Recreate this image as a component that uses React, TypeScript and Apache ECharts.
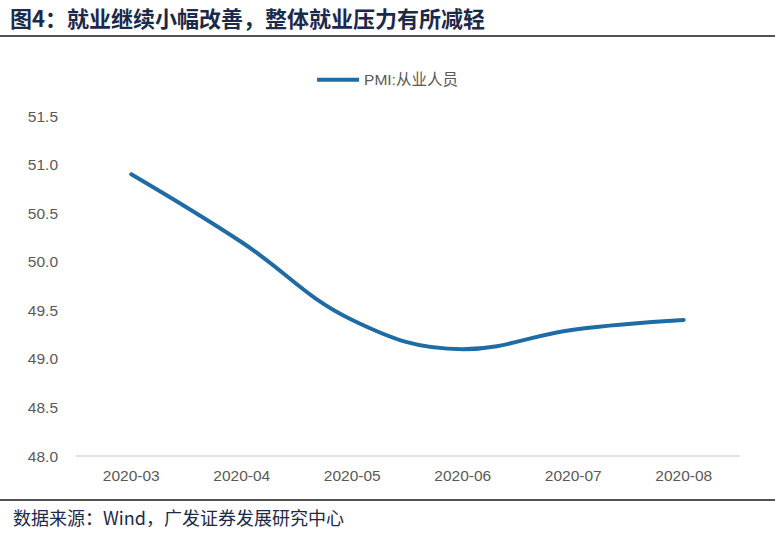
import React, { useEffect, useRef } from "react";
import * as echarts from "echarts";

const categories = ["2020-03", "2020-04", "2020-05", "2020-06", "2020-07", "2020-08"];
const pmiEmployment = [50.9, 50.2, 49.4, 49.1, 49.3, 49.4];
const seriesName = "PMI:从业人员";
const titleText = "图4：就业继续小幅改善，整体就业压力有所减轻";
const sourceText = "数据来源：Wind，广发证券发展研究中心";

export default function App() {
  const ref = useRef<HTMLDivElement>(null);
  useEffect(() => {
    if (!ref.current) return;
    const chart = echarts.init(ref.current, undefined, { renderer: "svg" });
    chart.setOption({
      animation: false,
      backgroundColor: "#ffffff",
      textStyle: { fontFamily: "Liberation Sans, Arial, Noto Sans CJK SC, sans-serif" },
      graphic: [
        {
          type: "text",
          left: 10,
          top: 6,
          style: {
            text: titleText,
            fontSize: 22,
            fontWeight: "bold",
            fill: "#1B2A4A",
            fontFamily: "Noto Sans CJK SC, sans-serif",
          },
        },
        {
          type: "line",
          shape: { x1: 0, y1: 36, x2: 775, y2: 36 },
          style: { stroke: "#1a1a1a", lineWidth: 1.5 },
        },
        {
          type: "line",
          shape: { x1: 0, y1: 500, x2: 775, y2: 500 },
          style: { stroke: "#1a1a1a", lineWidth: 1.5 },
        },
        {
          type: "text",
          left: 13,
          top: 508,
          style: {
            text: sourceText,
            fontSize: 18,
            fill: "#1B2A4A",
            fontFamily: "Noto Sans CJK SC, sans-serif",
          },
        },
      ],
      legend: {
        top: 67,
        left: "center",
        itemWidth: 42,
        itemHeight: 4,
        itemGap: 10,
        icon: "rect",
        textStyle: { fontSize: 15.5, color: "#595959", fontFamily: "Liberation Sans, Arial, Noto Sans CJK SC, sans-serif" },
        data: [seriesName],
      },
      grid: { left: 76, right: 36, top: 116, bottom: 84, containLabel: false },
      xAxis: {
        type: "category",
        data: categories,
        boundaryGap: true,
        axisLine: { lineStyle: { color: "#D9D9D9", width: 1.5 } },
        axisTick: { show: false },
        axisLabel: { fontSize: 15.5, color: "#595959", margin: 12 },
      },
      yAxis: {
        type: "value",
        min: 48,
        max: 51.5,
        interval: 0.5,
        axisLine: { show: false },
        axisTick: { show: false },
        splitLine: { show: false },
        axisLabel: {
          fontSize: 15.5,
          color: "#595959",
          margin: 18,
          formatter: (v: number) => v.toFixed(1),
        },
      },
      series: [
        {
          name: seriesName,
          type: "line",
          data: pmiEmployment,
          smooth: 0.4,
          showSymbol: false,
          symbol: "none",
          lineStyle: { color: "#1F6BA5", width: 4, cap: "round" },
          itemStyle: { color: "#1F6BA5" },
        },
      ],
    });
    return () => chart.dispose();
  }, []);
  return (
    <div
      ref={ref}
      style={{ position: "fixed", left: 0, top: 0, width: 775, height: 540, background: "#fff" }}
    />
  );
}
